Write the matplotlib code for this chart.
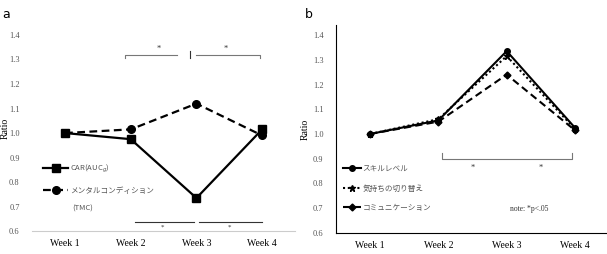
import matplotlib
matplotlib.use("Agg")
import matplotlib.pyplot as plt

plt.rcParams['font.family'] = ['Liberation Serif', 'Noto Sans CJK JP']

# data
weeks = ["Week 1", "Week 2", "Week 3", "Week 4"]
car = [1.0, 0.975, 0.735, 1.015]
tmc = [1.0, 1.015, 1.12, 0.99]

skill = [1.0, 1.055, 1.335, 1.025]
switch = [1.0, 1.06, 1.315, 1.02]
comm = [1.0, 1.05, 1.24, 1.015]

yticks = [0.6, 0.7, 0.8, 0.9, 1.0, 1.1, 1.2, 1.3, 1.4]
x = [1, 2, 3, 4]

jp = ['Noto Sans CJK JP', 'DejaVu Sans']
grey = "#777777"

fig = plt.figure(figsize=(6.07, 2.54), dpi=100)
ax1 = fig.add_axes([0.053, 0.09, 0.433, 0.811])
ax2 = fig.add_axes([0.5535, 0.083, 0.45, 0.818])

for ax in (ax1, ax2):
    ax.set_xlim(0.5, 4.5)
    ax.set_ylim(0.6, 1.44)
    ax.set_yticks(yticks)
    ax.set_yticklabels(["%.1f" % v for v in yticks], fontsize=6, color="#555555")
    ax.set_xticks(x)
    ax.set_xticklabels(weeks, fontsize=7)
    ax.tick_params(length=0)
    ax.tick_params(axis="y", pad=9)
    ax.tick_params(axis="x", pad=6)
    ax.spines["top"].set_visible(False)
    ax.spines["right"].set_visible(False)
    ax.set_ylabel("Ratio", fontsize=7, labelpad=2)

ax1.yaxis.set_label_coords(-0.085, 0.5)

# panel a
ax1.spines["left"].set_visible(False)
ax1.spines["bottom"].set_color("#cccccc")
ax1.spines["bottom"].set_linewidth(0.8)
ax1.plot(x, car, color="black", lw=1.6, marker="s", ms=5.5, label="CAR(AUC$_g$)", zorder=3)
ax1.plot(x, tmc, color="black", lw=1.6, ls=(0, (3.5, 2)), marker="o", ms=5.5,
         label="メンタルコンディション", zorder=3)
leg1 = ax1.legend(loc="upper left", bbox_to_anchor=(0.015, 0.365), frameon=False,
                  handlelength=3.3, handletextpad=0.2, labelspacing=1.6,
                  prop={"family": jp, "size": 5.5})
for t in leg1.get_texts():
    t.set_color("#555555")
ax1.text(0.152, 0.11, "(TMC)", transform=ax1.transAxes, fontsize=5.5,
         family=jp, color="#555555", va="center")

# significance brackets (panel a)
ax1.plot([1.92, 1.92, 2.7], [1.305, 1.32, 1.32], color=grey, lw=0.8)
ax1.plot([2.9, 2.9], [1.305, 1.335], color="#333333", lw=0.8)
ax1.plot([3.0, 3.97, 3.97], [1.32, 1.32, 1.305], color=grey, lw=0.8)
ax1.text(2.42, 1.335, "*", fontsize=6, ha="center", color="#333333")
ax1.text(3.45, 1.335, "*", fontsize=6, ha="center", color="#333333")
ax1.plot([2.07, 2.96], [0.638, 0.638], color="#333333", lw=0.8)
ax1.plot([3.04, 4.0], [0.638, 0.638], color="#333333", lw=0.8)
ax1.text(2.48, 0.61, "*", fontsize=5, ha="center", color="#333333")
ax1.text(3.5, 0.61, "*", fontsize=5, ha="center", color="#333333")

# panel b
ax2.plot(x, skill, color="black", lw=1.5, marker="o", ms=4, label="スキルレベル", zorder=4)
ax2.plot(x, switch, color="black", lw=1.5, ls=(0, (1, 1.3)), marker="*", ms=5,
         label="気持ちの切り替え", zorder=3)
ax2.plot(x, comm, color="black", lw=1.5, ls=(0, (3.5, 2)), marker="D", ms=3.5,
         label="コミュニケーション", zorder=3)
leg2 = ax2.legend(loc="upper left", bbox_to_anchor=(0.0, 0.36), frameon=False,
                  handlelength=2.4, handletextpad=0.2, labelspacing=1.5,
                  prop={"family": jp, "size": 5.5})
for t in leg2.get_texts():
    t.set_color("#555555")

ax2.plot([2.05, 2.05, 3.95, 3.95], [0.923, 0.899, 0.899, 0.923], color=grey, lw=0.8)
ax2.text(2.5, 0.855, "*", fontsize=6, ha="center", color="#333333")
ax2.text(3.5, 0.855, "*", fontsize=6, ha="center", color="#333333")
ax2.text(3.05, 0.69, "note: *p<.05", fontsize=5.5, color="#333333")

fig.text(0.003, 0.93, "a", fontsize=9, family="DejaVu Sans")
fig.text(0.503, 0.93, "b", fontsize=9, family="DejaVu Sans")

fig.savefig("out.png", dpi=100)
